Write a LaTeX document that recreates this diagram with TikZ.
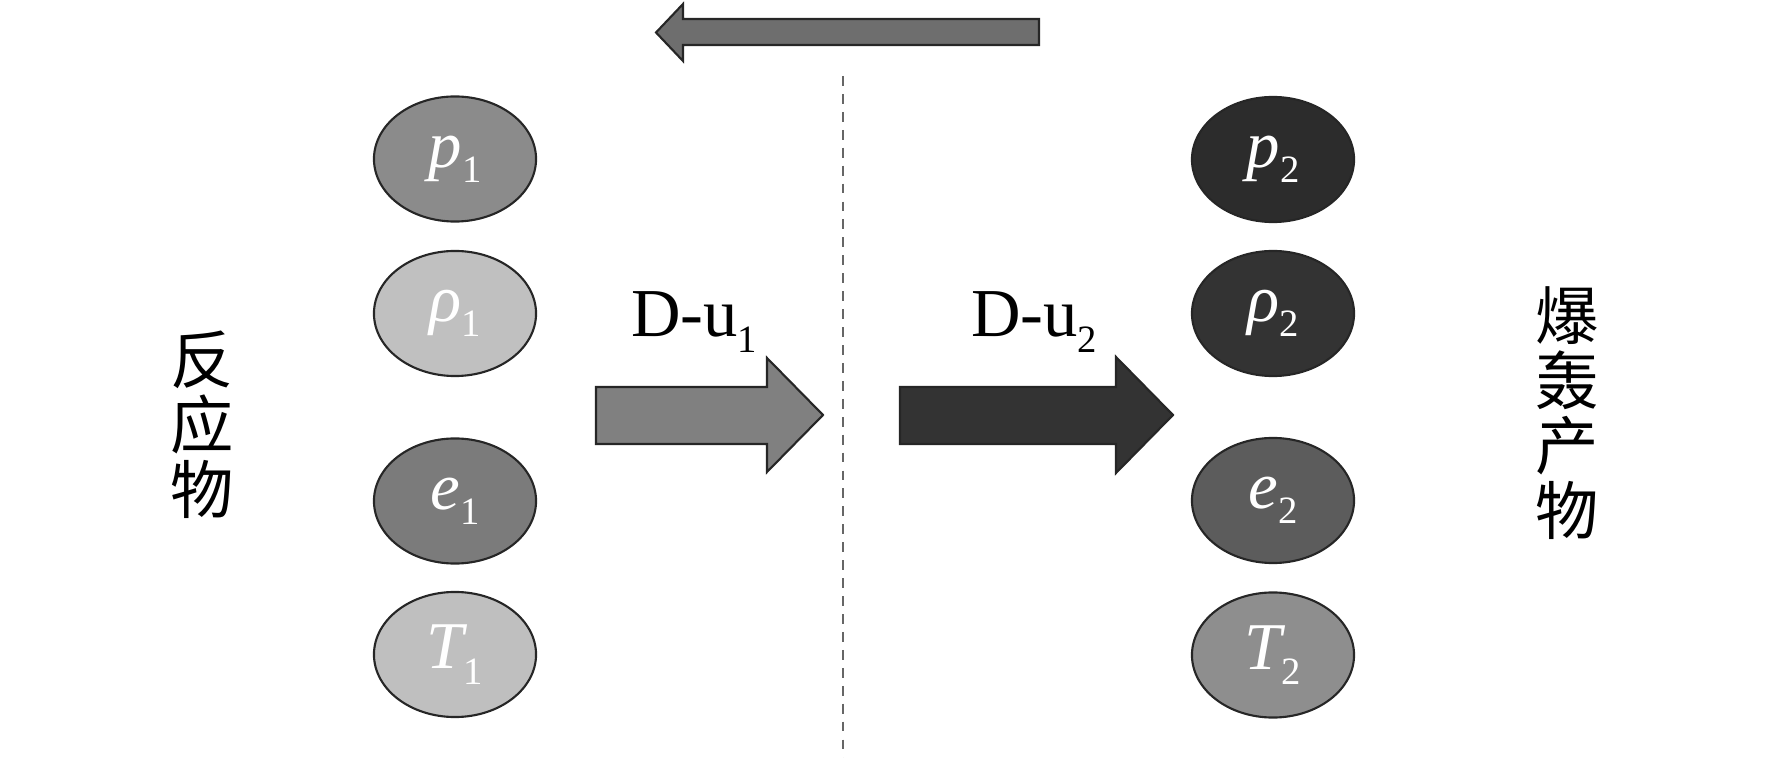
\documentclass[tikz,border=0pt]{standalone}
\usepackage{xcolor}
\usepackage{fontspec}
\setmainfont{Liberation Serif}
\newfontfamily\cjk{Noto Sans CJK SC}
\usepackage{tikz}
\usetikzlibrary{shapes.geometric,positioning}

\definecolor{pOne}{HTML}{8B8B8B}
\definecolor{rhoOne}{HTML}{C0C0C0}
\definecolor{eOne}{HTML}{7B7B7B}
\definecolor{TOne}{HTML}{BFBFBF}
\definecolor{pTwo}{HTML}{2C2C2C}
\definecolor{rhoTwo}{HTML}{333333}
\definecolor{eTwo}{HTML}{5C5C5C}
\definecolor{TTwo}{HTML}{8E8E8E}
\definecolor{backArrow}{HTML}{6E6E6E}
\definecolor{arrowOne}{HTML}{808080}
\definecolor{arrowTwo}{HTML}{333333}

\newcommand{\subidx}[1]{\raisebox{-0.5ex}{\fontsize{11}{11}\selectfont #1}}
\newcommand{\qty}[2]{{\itshape #1}\subidx{#2}}

\tikzset{
  state/.style={ellipse, draw=black!85, line width=0.6pt, minimum width=1.62cm,
    minimum height=1.25cm, inner sep=0pt, text=white,
    font=\fontsize{19}{22}\selectfont},
  blockarrow/.style={draw=black!85, line width=0.6pt},
  speed/.style={font=\fontsize{19.5}{22}\selectfont, anchor=base},
  side/.style={font=\cjk\fontsize{18}{18.5}\selectfont, align=center}
}

\begin{document}
\begin{tikzpicture}[x=0.01cm, y=-0.01cm]
    \useasboundingbox (0,0) rectangle (1772,758);

    % Reactants
    \node [state, fill=pOne] (p1) at (455,159) {\qty{p}{1}};
    \node [state, fill=rhoOne] (rho1) at (455,313.5) {\qty{ρ}{1}};
    \node [state, fill=eOne] (e1) at (455,501) {\qty{e}{1}};
    \node [state, fill=TOne] (T1) at (455,654.5) {\qty{T}{1}};
    \node [side] (reac) at (202,425) {反\\应\\物};

    % Detonation products
    \node [state, fill=pTwo] (p2) at (1273,159.5) {\qty{p}{2}};
    \node [state, fill=rhoTwo] (rho2) at (1273,313.5) {\qty{ρ}{2}};
    \node [state, fill=eTwo] (e2) at (1273,500.5) {\qty{e}{2}};
    \node [state, fill=TTwo] (T2) at (1273,655) {\qty{T}{2}};
    \node [side] (prod) at (1567,413) {爆\\轰\\产\\物};

    % Front
    \draw [dash pattern=on 2.8pt off 2.3pt, gray!80!black, line width=0.4pt] (843,76) -- (843,758);
    \draw [blockarrow, fill=backArrow] (1039,19) -- (683,19) -- (683,4) -- (656,32.5)
        -- (683,61) -- (683,45) -- (1039,45) -- cycle;

    % Flow velocities
    \draw [blockarrow, fill=arrowOne] (596,387) -- (767,387) -- (767,358) -- (823,415)
        -- (767,472) -- (767,444) -- (596,444) -- cycle;
    \node [speed] (u1) at (694,337) {D-u\subidx{1}};
    \draw [blockarrow, fill=arrowTwo] (900,387) -- (1116,387) -- (1116,357) -- (1173,415)
        -- (1116,473) -- (1116,444) -- (900,444) -- cycle;
    \node [speed] (u2) at (1034,337) {D-u\subidx{2}};
\end{tikzpicture}
\end{document}
